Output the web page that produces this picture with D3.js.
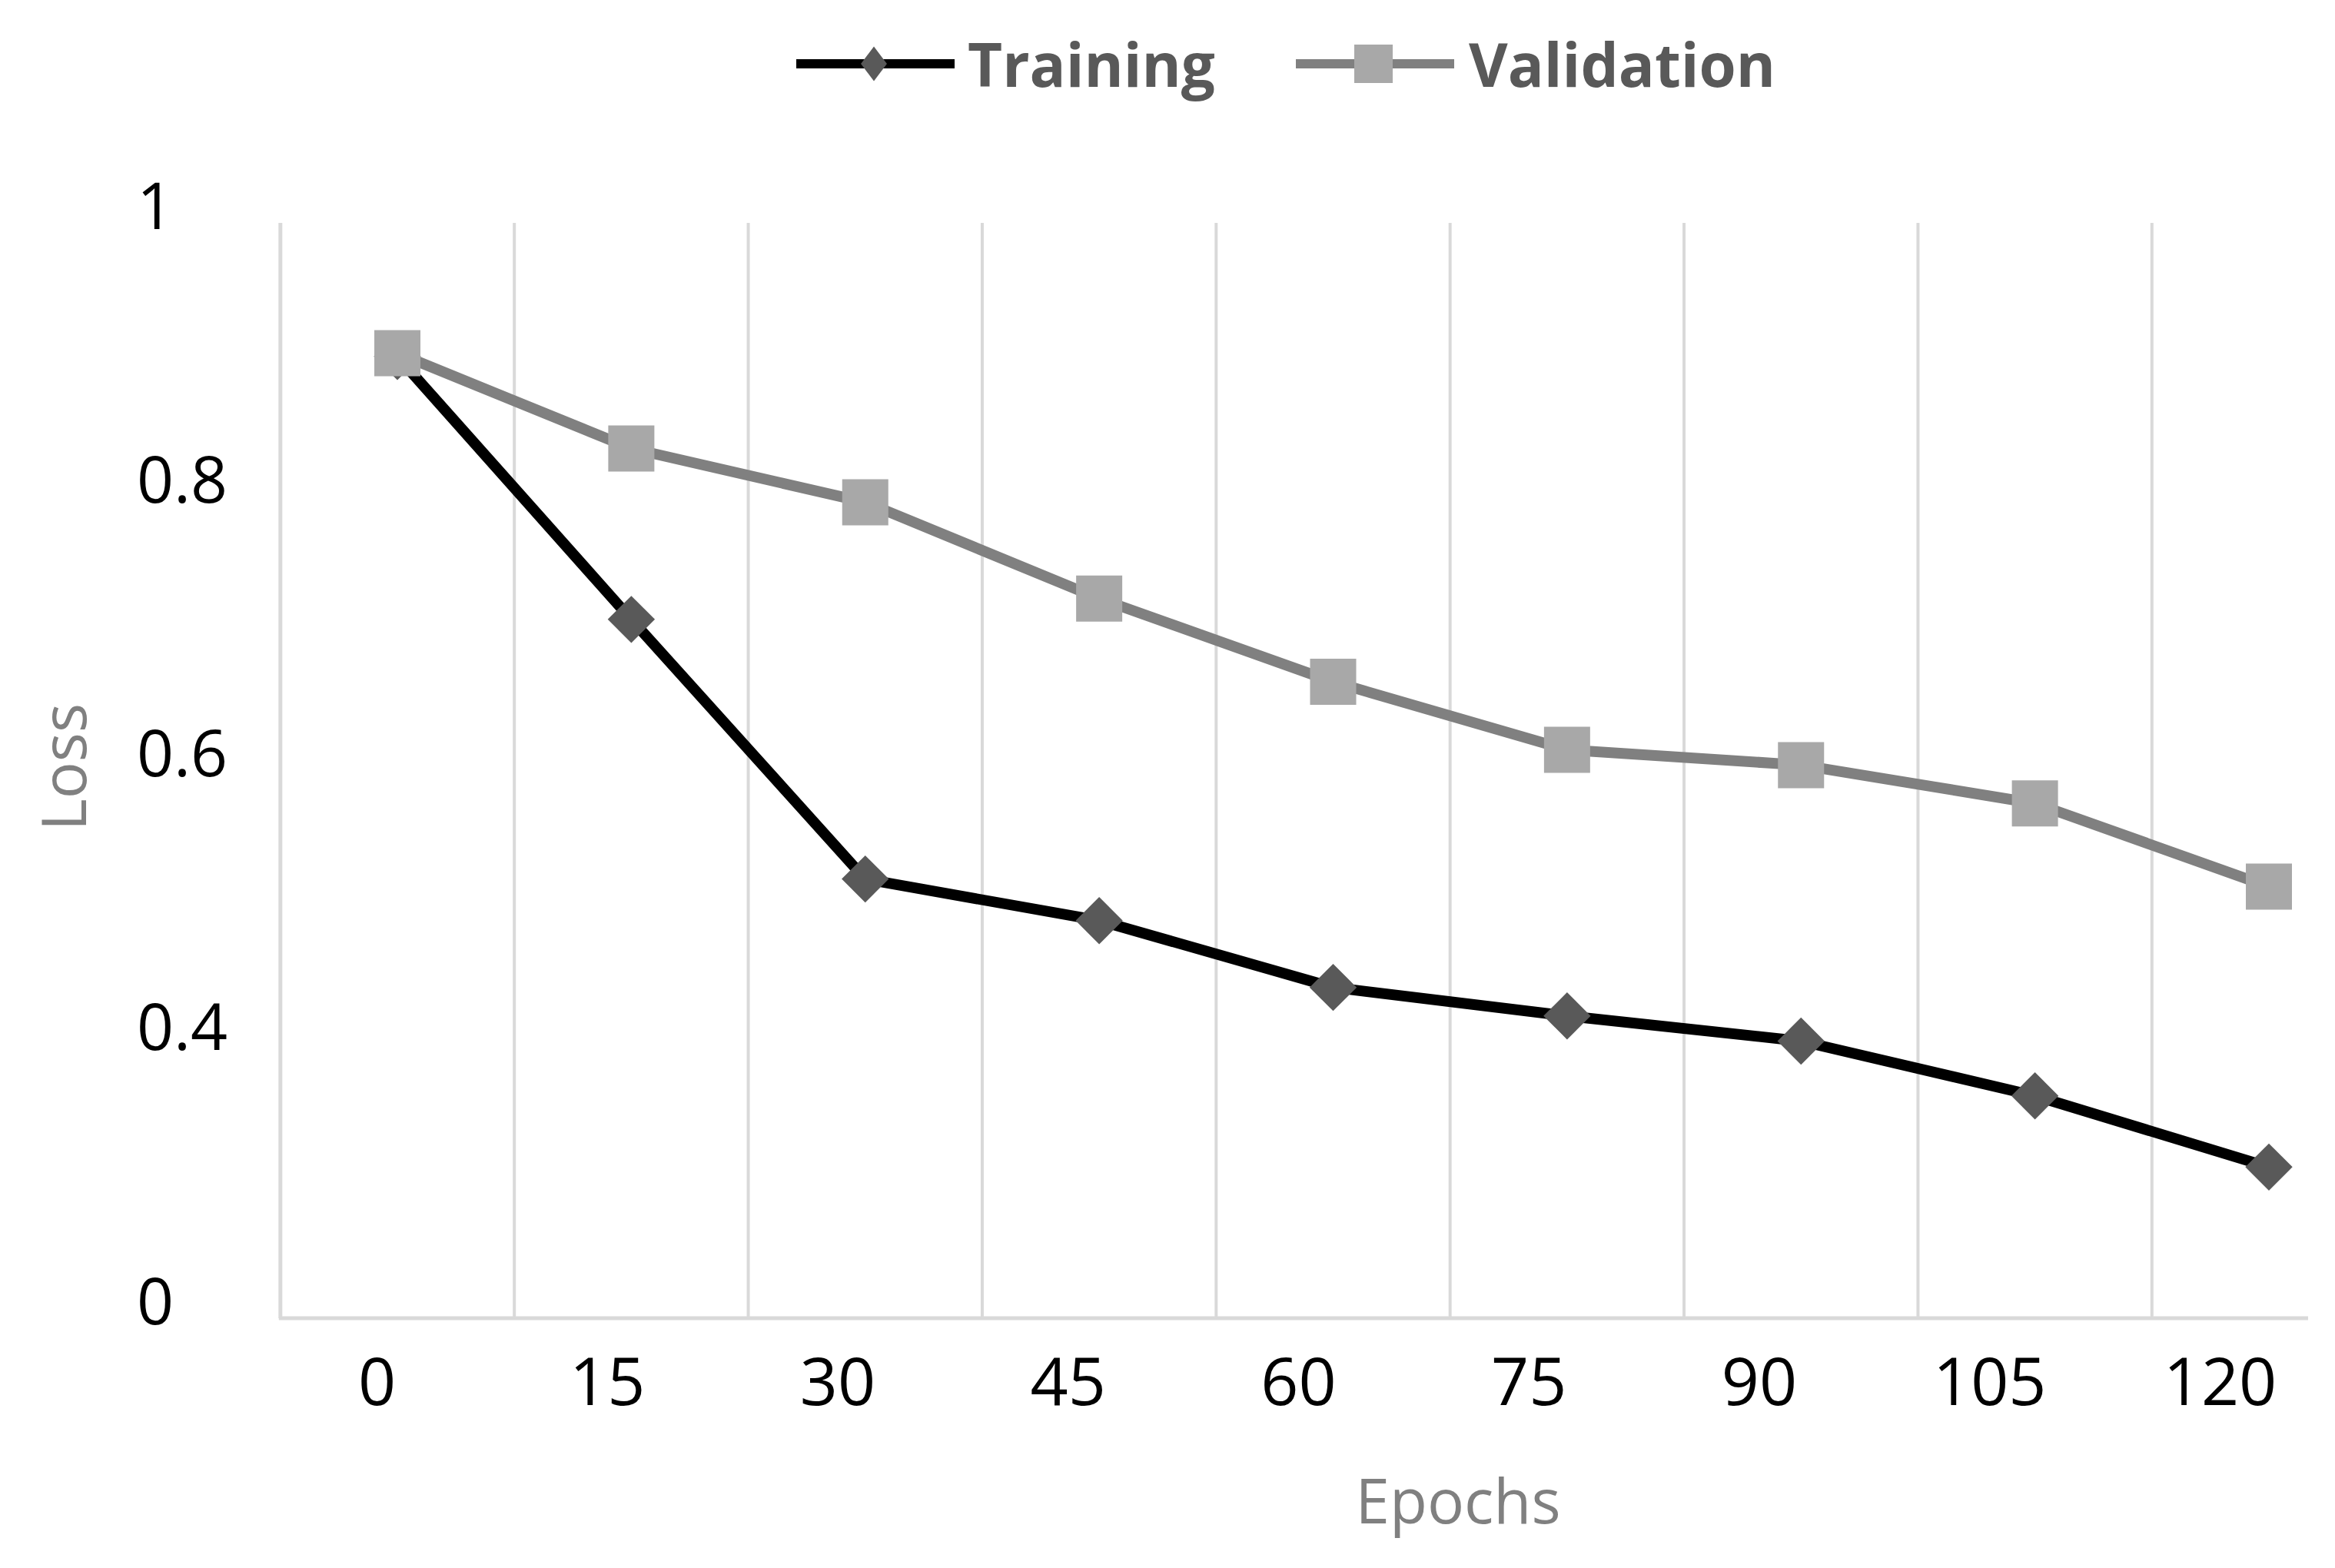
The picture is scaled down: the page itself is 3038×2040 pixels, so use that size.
<!DOCTYPE html>
<html>
<head>
<meta charset="utf-8">
<script src="https://cdn.jsdelivr.net/npm/d3@7"></script>
<style>
  html, body { margin: 0; padding: 0; background: #fff; }
  text { font-family: "Open Sans", "Liberation Sans", sans-serif; }
</style>
</head>
<body>
<div id="chart"></div>
<script>
// Data
const epochs = [0, 15, 30, 45, 60, 75, 90, 105, 120];
const trainingLoss = [0.878, 0.638, 0.401, 0.363, 0.302, 0.276, 0.253, 0.203, 0.138];
const validationLoss = [0.881, 0.794, 0.745, 0.657, 0.581, 0.519, 0.505, 0.470, 0.394];
const seriesNames = ['Training', 'Validation'];
const yTickLabels = ['1', '0.8', '0.6', '0.4', '0'];
const xTitle = 'Epochs';
const yTitle = 'Loss';

const styles = {
    'Training':   { line: '#000000', marker: '#595959', shape: d3.symbolDiamond2 },
    'Validation': { line: '#808080', marker: '#a8a8a8', shape: d3.symbolSquare }
};

const width = 3038;
const height = 2040;
const plot = { left: 370, right: 3003, top: 290, bottom: 1715 };

const svg = d3.select('#chart')
    .append('svg')
    .attr('width', width)
    .attr('height', height);

// Scales
const x = d3.scaleLinear().domain([0, 120]).range([517, 2952]);
const y = d3.scaleLinear().domain([0, 1]).range([plot.bottom, plot.top]);
// tick labels sit slightly left of their points and drift further left
const xLabel = d3.scaleLinear().domain([0, 120]).range([490, 2888]);

// Vertical gridlines at category boundaries
const step = epochs[1] - epochs[0];
const gridAt = epochs.map(e => e - step / 2);
svg.append('g')
    .selectAll('line')
    .data(gridAt)
    .enter().append('line')
    .attr('x1', d => x(d))
    .attr('x2', d => x(d))
    .attr('y1', y(1))
    .attr('y2', y(0))
    .attr('stroke', '#d9d9d9')
    .attr('stroke-width', d => d === gridAt[0] ? 5 : 4);

// x axis line
svg.append('line')
    .attr('x1', x(gridAt[0]) - 2)
    .attr('x2', plot.right)
    .attr('y1', y(0))
    .attr('y2', y(0))
    .attr('stroke', '#d9d9d9')
    .attr('stroke-width', 5);

// x tick labels
const xAxis = d3.axisBottom(xLabel)
    .tickValues(epochs)
    .tickSize(0)
    .tickPadding(0)
    .tickFormat(d3.format('d'));
const gx = svg.append('g')
    .attr('transform', `translate(0,${y(0)})`)
    .call(xAxis);
gx.select('.domain').remove();
gx.selectAll('text')
    .attr('dy', null)
    .attr('y', 113)
    .style('font-family', '"Open Sans", sans-serif')
    .style('font-size', '86px')
    .style('fill', '#000');

// y tick labels (spread evenly, left aligned as in the picture)
const yLabelPos = d3.scalePoint().domain(yTickLabels).range([y(1), y(0)]);
svg.append('g')
    .selectAll('text')
    .data(yTickLabels)
    .enter().append('text')
    .attr('x', 178)
    .attr('y', d => yLabelPos(d) - 25)
    .attr('dominant-baseline', 'central')
    .style('font-size', '84px')
    .style('fill', '#000')
    .text(d => d);

// Axis titles
svg.append('text')
    .attr('x', 1897)
    .attr('y', 1982)
    .attr('text-anchor', 'middle')
    .style('font-size', '80px')
    .style('fill', '#808080')
    .text(xTitle);

svg.append('text')
    .attr('transform', 'translate(112,998) rotate(-90)')
    .attr('text-anchor', 'middle')
    .style('font-size', '80px')
    .style('fill', '#808080')
    .text(yTitle);

// Series
const series = [
    { name: seriesNames[0], values: trainingLoss },
    { name: seriesNames[1], values: validationLoss }
];

const line = d3.line()
    .x((d, i) => x(epochs[i]))
    .y(d => y(d));

series.forEach(s => {
    const st = styles[s.name];
    svg.append('path')
        .datum(s.values)
        .attr('d', line)
        .attr('fill', 'none')
        .attr('stroke', st.line)
        .attr('stroke-width', 14)
        .attr('stroke-linejoin', 'round');

    const size = s.name === 'Training' ? 2400 : 3600;
    svg.append('g')
        .selectAll('path')
        .data(s.values)
        .enter().append('path')
        .attr('transform', (d, i) => `translate(${x(epochs[i])},${y(d)})`)
        .attr('d', d3.symbol().type(st.shape).size(size))
        .attr('fill', st.marker);
});

// Legend
const legendX = [1036, 1686];
const legendTextX = [1259, 1911];
const legend = svg.append('g');
seriesNames.forEach((name, i) => {
    const st = styles[name];
    legend.append('line')
        .attr('x1', legendX[i])
        .attr('x2', legendX[i] + 206)
        .attr('y1', 83)
        .attr('y2', 83)
        .attr('stroke', st.line)
        .attr('stroke-width', 12);
    legend.append('path')
        .attr('transform', `translate(${legendX[i] + 101},83)` + (name === 'Training' ? ' scale(0.75,1)' : ''))
        .attr('d', d3.symbol().type(st.shape).size(name === 'Training' ? 1300 : 2500))
        .attr('fill', st.marker);
    legend.append('text')
        .attr('x', legendTextX[i])
        .attr('y', 113)
        .style('font-size', '78px')
        .style('font-weight', 'bold')
        .style('fill', '#595959')
        .text(name);
});
</script>
</body>
</html>
